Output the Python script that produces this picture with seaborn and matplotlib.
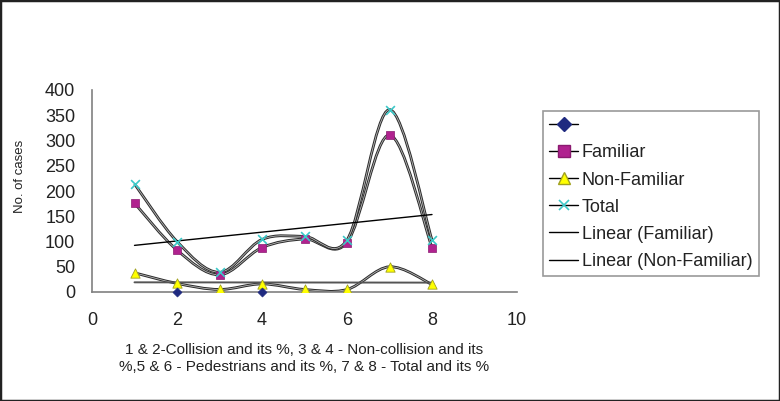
import matplotlib
matplotlib.use("Agg")
import matplotlib.pyplot as plt
import matplotlib.patheffects as pe
from matplotlib.path import Path
from matplotlib.patches import PathPatch, Rectangle
from matplotlib.lines import Line2D
import seaborn as sns
import pandas as pd

# data
x_pos = [1, 2, 3, 4, 5, 6, 7, 8]
familiar = [176, 83, 34, 88, 105, 98, 311, 88]
non_familiar = [38, 17, 5, 16, 5, 5, 50, 15]
total = [214, 100, 39, 104, 110, 103, 361, 103]
blank_x = [2, 4]
blank_y = [0, 0]

x_ticks = [0, 2, 4, 6, 8, 10]
y_ticks = [0, 50, 100, 150, 200, 250, 300, 350, 400]
x_label = ("1 & 2-Collision and its %, 3 & 4 - Non-collision and its\n"
           "%,5 & 6 - Pedestrians and its %, 7 & 8 - Total and its %")
y_label = "No. of cases"

sns.set_style("white")
plt.rcParams["font.family"] = ["Liberation Sans", "DejaVu Sans"]


def smooth_path(xs, ys):
    # excel-style smoothed line: bezier segments through every point
    pts = list(zip(xs, ys))
    verts = [pts[0]]
    codes = [Path.MOVETO]
    n = len(pts)
    for i in range(n - 1):
        p0 = pts[i - 1] if i > 0 else pts[i]
        p1 = pts[i]
        p2 = pts[i + 1]
        p3 = pts[i + 2] if i + 2 < n else pts[i + 1]
        c1 = (p1[0] + (p2[0] - p0[0]) / 6, p1[1] + (p2[1] - p0[1]) / 6)
        c2 = (p2[0] - (p3[0] - p1[0]) / 6, p2[1] - (p3[1] - p1[1]) / 6)
        verts += [c1, c2, p2]
        codes += [Path.CURVE4] * 3
    return Path(verts, codes)


fig = plt.figure(figsize=(7.8, 4.01), dpi=100)
ax = fig.add_axes([92 / 780, 1 - 292 / 401, 425 / 780, 202 / 401])

line_fx = [pe.Stroke(linewidth=2.0, foreground="#2a2a2a"),
           pe.Stroke(linewidth=0.6, foreground="#b8b8b8")]
for series in [familiar, non_familiar, total]:
    patch = PathPatch(smooth_path(x_pos, series), facecolor="none",
                      edgecolor="#2a2a2a", lw=2.0, zorder=2)
    patch.set_path_effects(line_fx)
    ax.add_patch(patch)

# linear trend lines
sns.regplot(x=x_pos, y=familiar, scatter=False, ci=None, truncate=True,
            line_kws=dict(color="black", lw=1.0, zorder=3), ax=ax)
sns.regplot(x=x_pos, y=non_familiar, scatter=False, ci=None, truncate=True,
            line_kws=dict(color="#555555", lw=1.4, zorder=3), ax=ax)

df = pd.DataFrame({"x": x_pos, "Familiar": familiar,
                   "Non-Familiar": non_familiar, "Total": total})
sns.scatterplot(data=df, x="x", y="Familiar", marker="s", s=40,
                color="#b0228f", edgecolor="#8a1a70", linewidth=0.5, zorder=4, ax=ax)
sns.scatterplot(data=df, x="x", y="Total", marker="x", s=40,
                color="#3cc8c8", linewidth=1.2, zorder=5, ax=ax)
sns.scatterplot(data=df, x="x", y="Non-Familiar", marker="^", s=45,
                color="#ffff00", edgecolor="#a0a020", linewidth=0.6, zorder=4, ax=ax)
sns.scatterplot(x=blank_x, y=blank_y, marker="D", s=22, color="#1f2a80",
                edgecolor="#1f2a80", zorder=6, clip_on=False, ax=ax)

ax.set_xlim(0, 10)
ax.set_ylim(0, 400)
ax.set_xticks(x_ticks)
ax.set_yticks(y_ticks)
ax.tick_params(axis="both", labelsize=13, length=3.5, pad=8.5,
               width=1, direction="out", color="#808080", labelcolor="#222222")
ax.tick_params(axis="x", pad=11)
sns.despine(ax=ax)
for side in ["left", "bottom"]:
    ax.spines[side].set_color("#808080")
    ax.spines[side].set_linewidth(1.2)
ax.set_xlabel(x_label, fontsize=11, color="#222222", labelpad=10, linespacing=1.3)
ax.set_ylabel(y_label, fontsize=9.5, color="#222222")
ax.yaxis.set_label_coords(-0.155, 0.57)

handles = [
    Line2D([], [], color="black", lw=1, marker="D", markersize=7,
           markerfacecolor="#1f2a80", markeredgecolor="#1f2a80"),
    Line2D([], [], color="black", lw=1, marker="s", markersize=8,
           markerfacecolor="#b0228f", markeredgecolor="#8a1a70"),
    Line2D([], [], color="black", lw=1, marker="^", markersize=8,
           markerfacecolor="#ffff00", markeredgecolor="#a0a020"),
    Line2D([], [], color="black", lw=1, marker="x", markersize=7,
           markeredgecolor="#3cc8c8", markeredgewidth=1.2),
    Line2D([], [], color="black", lw=1),
    Line2D([], [], color="black", lw=1),
]
labels = ["", "Familiar", "Non-Familiar", "Total",
          "Linear (Familiar)", "Linear (Non-Familiar)"]
leg = fig.legend(handles, labels, loc="upper left",
                 bbox_to_anchor=(543 / 780, 1 - 111 / 401),
                 bbox_transform=fig.transFigure, fontsize=13, frameon=True,
                 fancybox=False, borderpad=0.35, labelspacing=0.56,
                 handlelength=1.6, handletextpad=0.2, borderaxespad=0)
leg.get_frame().set_edgecolor("#808080")
leg.get_frame().set_linewidth(1.2)
for t in leg.get_texts():
    t.set_color("#222222")

fig.patches.append(Rectangle((0, 0), 1, 1, transform=fig.transFigure,
                             fill=False, edgecolor="#222222", lw=2.5))

fig.savefig("out.png", dpi=100)
